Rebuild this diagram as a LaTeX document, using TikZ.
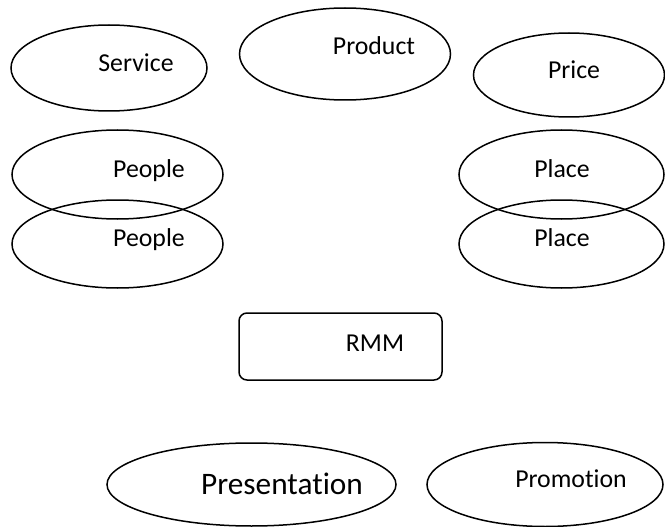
\documentclass[tikz,border=0pt]{standalone}
\usepackage{fontspec}
\setmainfont[RawFeature={-liga;-clig;-dlig}]{Carlito}
\usetikzlibrary{shapes.geometric}
\tikzset{
  oval/.style={draw=black, ellipse, line width=1.5pt, inner sep=0pt},
  rbox/.style={draw=black, rounded corners=8pt, line width=1.5pt, inner sep=0pt},
  lbl/.style={anchor=base, inner sep=0pt, font=\fontsize{25.8}{30}\selectfont},
  biglbl/.style={anchor=base, inner sep=0pt, font=\fontsize{31.3}{36}\selectfont}
}
\begin{document}
\begin{tikzpicture}[x=1pt,y=-1pt]
\useasboundingbox (0,0) rectangle (665,527);
% ellipses
\node[oval, minimum width=196pt, minimum height=86pt] (service) at (109,68) {};
\node[oval, minimum width=211pt, minimum height=92pt] (product) at (345,54) {};
\node[oval, minimum width=191pt, minimum height=84pt] (price) at (569,75) {};
\node[oval, minimum width=211pt, minimum height=89pt] (people1) at (117.5,174.5) {};
\node[oval, minimum width=211pt, minimum height=88pt] (people2) at (117.5,244) {};
\node[oval, minimum width=205pt, minimum height=89pt] (place1) at (561.5,174.5) {};
\node[oval, minimum width=205pt, minimum height=88pt] (place2) at (561.5,244) {};
\node[rbox, minimum width=203pt, minimum height=67pt] (rmm) at (340.5,346.5) {};
\node[oval, minimum width=289pt, minimum height=83pt] (presentation) at (251.5,484.5) {};
\node[oval, minimum width=236pt, minimum height=84pt] (promotion) at (545,484.5) {};
% labels
\node[lbl] (tservice) at (136,72) {Service};
\node[lbl] (tproduct) at (374,55) {Product};
\node[lbl] (tprice) at (574,79) {Price};
\node[lbl] (tpeople1) at (149,178) {People};
\node[lbl] (tpeople2) at (149,246) {People};
\node[lbl] (tplace1) at (562,177) {Place};
\node[lbl] (tplace2) at (562,246) {Place};
\node[lbl] (trmm) at (375,351) {RMM};
\node[biglbl] (tpresentation) at (282,494) {Presentation};
\node[lbl] (tpromotion) at (571,487) {Promotion};
\end{tikzpicture}
\end{document}
